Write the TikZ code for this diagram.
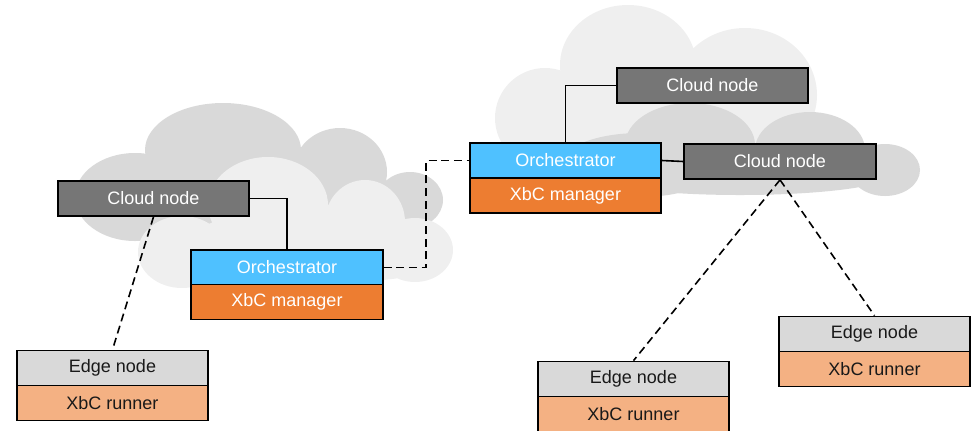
\documentclass[tikz,border=0pt]{standalone}
\usepackage{fontspec}
\setmainfont{Liberation Sans}
\definecolor{cloudlight}{HTML}{EFEFEF}
\definecolor{clouddark}{HTML}{D9D9D9}
\definecolor{cnode}{HTML}{767676}
\definecolor{orch}{HTML}{4FC1FF}
\definecolor{mgr}{HTML}{ED7D31}
\definecolor{enode}{HTML}{D9D9D9}
\definecolor{runner}{HTML}{F4B183}
\tikzset{
  box/.style={draw=black, line width=1.3pt, rectangle, inner sep=0pt,
    minimum width=143.5pt, minimum height=26.25pt,
    font=\fontsize{13.5}{16}\selectfont},
  cloudbox/.style={box, fill=cnode, text=white},
  orchbox/.style={box, fill=orch, text=white},
  mgrbox/.style={box, fill=mgr, text=white},
  edgebox/.style={box, fill=enode, text=black!90},
  runbox/.style={box, fill=runner, text=black!90},
  link/.style={line width=1.2pt},
  dlink/.style={line width=1.2pt, dash pattern=on 6pt off 3.5pt},
}
\begin{document}
\begin{tikzpicture}[x=0.75pt, y=-0.75pt]
\useasboundingbox (0,0) rectangle (971,430);

% left cloud, back part
\fill[clouddark]
  (135,197) ellipse [x radius=60, y radius=44]
  (223,150) ellipse [x radius=78, y radius=47]
  (340,172) ellipse [x radius=47, y radius=44]
  (410,200) ellipse [x radius=33, y radius=28]
  (260,210) ellipse [x radius=150, y radius=22];
% left cloud, front part
\fill[cloudlight]
  (182,252) ellipse [x radius=44, y radius=36]
  (268,205) ellipse [x radius=60, y radius=48]
  (365,222) ellipse [x radius=40, y radius=42]
  (415,250) ellipse [x radius=38, y radius=32]
  (320,240) ellipse [x radius=60, y radius=30]
  (230,245) ellipse [x radius=40, y radius=25]
  (300,262) ellipse [x radius=145, y radius=22];

% right cloud, back part
\fill[cloudlight]
  (545,118) ellipse [x radius=50, y radius=50]
  (628,65) ellipse [x radius=68, y radius=60]
  (745,95) ellipse [x radius=72, y radius=67]
  (660,135) ellipse [x radius=140, y radius=40];
% right cloud, front part
\fill[clouddark]
  (640,165) ellipse [x radius=80, y radius=32]
  (690,145) ellipse [x radius=65, y radius=42]
  (810,150) ellipse [x radius=55, y radius=38]
  (885,170) ellipse [x radius=35, y radius=26]
  (740,175) ellipse [x radius=150, y radius=20];

% nodes
\node[cloudbox] (lcloud) at (153.5,198.5) {Cloud node};
\node[orchbox]  (lorch)  at (287,267.5) {Orchestrator};
\node[mgrbox]   (lmgr)   at (287,302) {XbC manager};

\node[orchbox]  (rorch)  at (565.5,160.5) {Orchestrator};
\node[mgrbox]   (rmgr)   at (565.5,195.5) {XbC manager};
\node[cloudbox] (tcloud) at (712.5,85.5) {Cloud node};
\node[cloudbox] (rcloud) at (780,161.5) {Cloud node};

\node[edgebox] (ledge) at (112.5,368) {Edge node};
\node[runbox]  (lrun)  at (112.5,403) {XbC runner};
\node[edgebox] (medge) at (633.5,379) {Edge node};
\node[runbox]  (mrun)  at (633.5,414) {XbC runner};
\node[edgebox] (redge) at (874.5,334) {Edge node};
\node[runbox]  (rrun)  at (874.5,369) {XbC runner};

% connectors
\coordinate (bendx) at (426,0);
\draw[link] (lcloud.east) -| (lorch.north);
\draw[link] (tcloud.west) -| (rorch.north);
\draw[link] (rorch.east) -- (rcloud.west);
\draw[dlink] (lorch.east) -- (lorch.east -| bendx) |- (rorch.west);
\draw[dlink] (lcloud.south) -- (ledge.north);
\draw[dlink] (rcloud.south) -- (medge.north);
\draw[dlink] (rcloud.south) -- (redge.north);
\end{tikzpicture}
\end{document}
